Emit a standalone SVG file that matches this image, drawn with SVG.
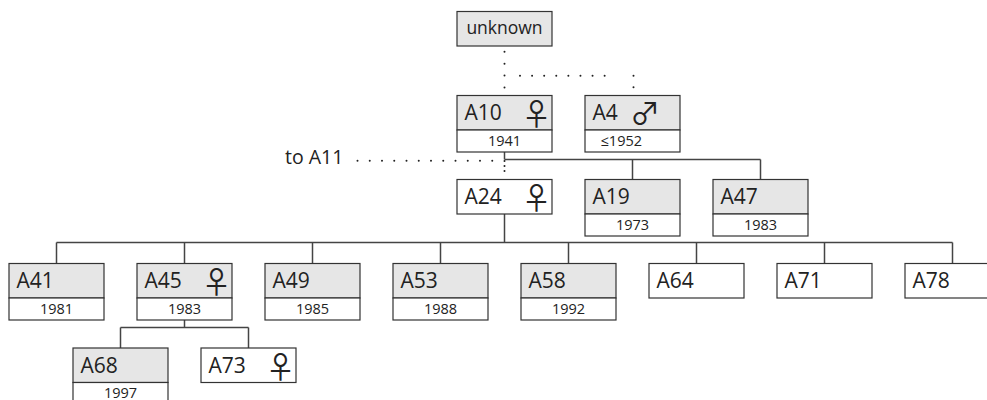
<svg xmlns="http://www.w3.org/2000/svg" width="987" height="400" viewBox="0 0 987 400">
<style>
.hdr{fill:#e6e6e6;stroke:#333;stroke-width:1.2}
.wht{fill:#fff;stroke:#333;stroke-width:1.2}
.lbl{font-family:"Open Sans","Noto Sans",sans-serif;font-size:21px;fill:#222}
.yr{font-family:"Open Sans","Noto Sans",sans-serif;font-size:14.5px;fill:#222;text-anchor:middle}
.sym{font-family:"Noto Sans CJK JP","DejaVu Sans",sans-serif;font-size:30px;fill:#222;text-anchor:middle}
.con{stroke:#444;stroke-width:1.5;fill:none}
.dot{stroke:#222;stroke-width:2;stroke-linecap:round;fill:none}
</style>
<rect x="0" y="0" width="987" height="400" fill="#fff"/>
<g id="connectors">
<path class="con" d="M504.5,152V159.5M504.5,159.5H760.5M632.5,159.5V179.5M760.5,159.5V179.5"/>
<path class="con" d="M504.5,214V242.5M56.5,242.5H952.5M56.5,242.5V263.5M184.5,242.5V263.5M312.5,242.5V263.5M440.5,242.5V263.5M568.5,242.5V263.5M696.5,242.5V263.5M824.5,242.5V263.5M952.5,242.5V263.5"/>
<path class="con" d="M184.5,320V327.5M120.5,327.5H248.5M120.5,327.5V348M248.5,327.5V348"/>
<line class="dot" x1="504.5" y1="51.7" x2="504.5" y2="87.5" stroke-dasharray="0 11.93"/>
<line class="dot" x1="520" y1="75.7" x2="616.7" y2="75.7" stroke-dasharray="0 12.09"/>
<line class="dot" x1="633.5" y1="75.7" x2="633.5" y2="87.3" stroke-dasharray="0 11.6"/>
<line class="dot" x1="357.5" y1="160.7" x2="504.5" y2="160.7" stroke-dasharray="0 12.25"/>
<line class="dot" x1="504.5" y1="161" x2="504.5" y2="176" stroke-dasharray="0 5"/>
<text class="lbl" x="285" y="164" style="font-size:19.5px">to A11</text>
</g>
<g id="n-unknown">
<rect class="hdr" x="457" y="11.5" width="95" height="34.5"/>
<text class="lbl" x="504.5" y="34.3" text-anchor="middle" style="font-size:17.5px">unknown</text>
</g>
<g id="n-A10">
<rect class="hdr" x="457" y="95.5" width="95" height="34.5"/>
<rect class="wht" x="457" y="130" width="95" height="22"/>
<text class="lbl" x="464.5" y="120">A10</text>
<text class="sym" x="536.5" y="125">♀</text>
<text class="yr" x="504.5" y="145.5">1941</text>
</g>
<g id="n-A4">
<rect class="hdr" x="585" y="95.5" width="95" height="34.5"/>
<rect class="wht" x="585" y="130" width="95" height="22"/>
<text class="lbl" x="592.5" y="120">A4</text>
<text class="sym" x="645" y="124">♂</text>
<text class="yr" x="621.3" y="145.5">≤1952</text>
</g>
<g id="n-A24">
<rect class="wht" x="457" y="179.5" width="95" height="34.5"/>
<text class="lbl" x="464.5" y="204">A24</text>
<text class="sym" x="536.5" y="209">♀</text>
</g>
<g id="n-A19">
<rect class="hdr" x="585" y="179.5" width="95" height="34.5"/>
<rect class="wht" x="585" y="214" width="95" height="22"/>
<text class="lbl" x="592.5" y="204">A19</text>
<text class="yr" x="632.5" y="229.5">1973</text>
</g>
<g id="n-A47">
<rect class="hdr" x="713" y="179.5" width="95" height="34.5"/>
<rect class="wht" x="713" y="214" width="95" height="22"/>
<text class="lbl" x="720.5" y="204">A47</text>
<text class="yr" x="760.5" y="229.5">1983</text>
</g>
<g id="n-A41">
<rect class="hdr" x="9" y="263.5" width="95" height="34.5"/>
<rect class="wht" x="9" y="298" width="95" height="22"/>
<text class="lbl" x="16.5" y="288">A41</text>
<text class="yr" x="56.5" y="313.5">1981</text>
</g>
<g id="n-A45">
<rect class="hdr" x="137" y="263.5" width="95" height="34.5"/>
<rect class="wht" x="137" y="298" width="95" height="22"/>
<text class="lbl" x="144.5" y="288">A45</text>
<text class="sym" x="216.5" y="293">♀</text>
<text class="yr" x="184.5" y="313.5">1983</text>
</g>
<g id="n-A49">
<rect class="hdr" x="265" y="263.5" width="95" height="34.5"/>
<rect class="wht" x="265" y="298" width="95" height="22"/>
<text class="lbl" x="272.5" y="288">A49</text>
<text class="yr" x="312.5" y="313.5">1985</text>
</g>
<g id="n-A53">
<rect class="hdr" x="393" y="263.5" width="95" height="34.5"/>
<rect class="wht" x="393" y="298" width="95" height="22"/>
<text class="lbl" x="400.5" y="288">A53</text>
<text class="yr" x="440.5" y="313.5">1988</text>
</g>
<g id="n-A58">
<rect class="hdr" x="521" y="263.5" width="95" height="34.5"/>
<rect class="wht" x="521" y="298" width="95" height="22"/>
<text class="lbl" x="528.5" y="288">A58</text>
<text class="yr" x="568.5" y="313.5">1992</text>
</g>
<g id="n-A64">
<rect class="wht" x="649" y="263.5" width="95" height="34.5"/>
<text class="lbl" x="656.5" y="288">A64</text>
</g>
<g id="n-A71">
<rect class="wht" x="777" y="263.5" width="95" height="34.5"/>
<text class="lbl" x="784.5" y="288">A71</text>
</g>
<g id="n-A78">
<rect class="wht" x="905" y="263.5" width="95" height="34.5"/>
<text class="lbl" x="912.5" y="288">A78</text>
</g>
<g id="n-A68">
<rect class="hdr" x="73" y="348" width="95" height="34.5"/>
<rect class="wht" x="73" y="382.5" width="95" height="22"/>
<text class="lbl" x="80.5" y="372.5">A68</text>
<text class="yr" x="120.5" y="398">1997</text>
</g>
<g id="n-A73">
<rect class="wht" x="201" y="348" width="95" height="34.5"/>
<text class="lbl" x="208.5" y="372.5">A73</text>
<text class="sym" x="280.5" y="377.5">♀</text>
</g>
</svg>
